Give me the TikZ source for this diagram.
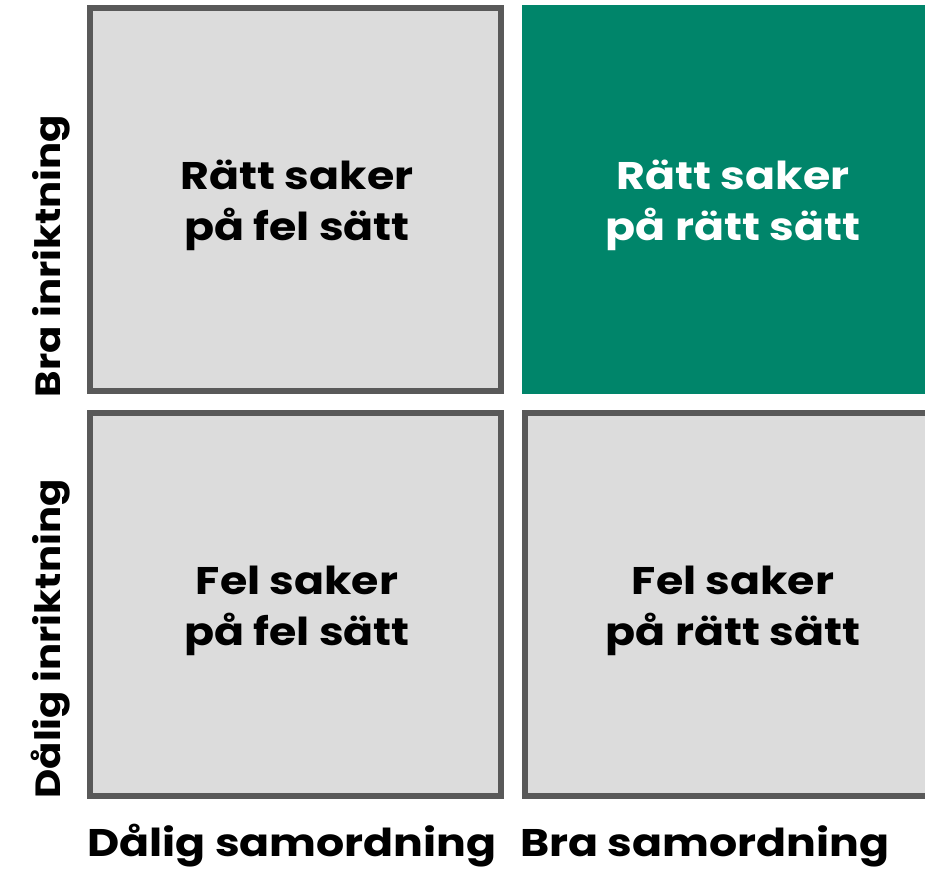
\documentclass[tikz,border=0pt]{standalone}
\usepackage{fontspec}
\setmainfont{Poppins}
\newfontfamily\widefont{Poppins}[FakeStretch=1.15]
\definecolor{boxgray}{HTML}{DCDCDC}
\definecolor{edgegray}{HTML}{595959}
\definecolor{goodgreen}{HTML}{00856A}
\begin{document}
\begin{tikzpicture}[x=1pt,y=-1pt,
  graybox/.style={fill=boxgray,draw=edgegray,line width=6pt},
  greenbox/.style={fill=goodgreen},
  celltext/.style={font=\widefont\fontsize{38.5}{44}\selectfont\bfseries,anchor=base,inner sep=0pt},
  axistext/.style={font=\widefont\fontsize{38.5}{44}\selectfont\bfseries,anchor=base,inner sep=0pt},
  vaxistext/.style={font=\widefont\fontsize{35}{40}\selectfont\bfseries,anchor=base,inner sep=0pt,rotate=90}]
\useasboundingbox (0,0) rectangle (925,871);
\begin{scope}
\clip (0,0) rectangle (925,871);
\draw[graybox] (90,8) rectangle (501,391);
\fill[greenbox] (522,5) rectangle (940,394);
\draw[graybox] (90,413) rectangle (501,796);
\draw[graybox] (525,413) rectangle (943,796);
\end{scope}
\node[celltext] (tl1) at (297,189) {Rätt saker};
\node[celltext] (tl2) at (297,240) {på fel sätt};
\node[celltext,text=white] (tr1) at (733,189) {Rätt saker};
\node[celltext,text=white] (tr2) at (733,240) {på rätt sätt};
\node[celltext] (bl1) at (297,594) {Fel saker};
\node[celltext] (bl2) at (297,645) {på fel sätt};
\node[celltext] (br1) at (733,594) {Fel saker};
\node[celltext] (br2) at (733,645) {på rätt sätt};
\node[axistext] (xl) at (292,856) {Dålig samordning};
\node[axistext] (xr) at (705,856) {Bra samordning};
\node[vaxistext] (yt) at (60,256) {Bra inriktning};
\node[vaxistext] (yb) at (60,639) {Dålig inriktning};
\end{tikzpicture}
\end{document}
